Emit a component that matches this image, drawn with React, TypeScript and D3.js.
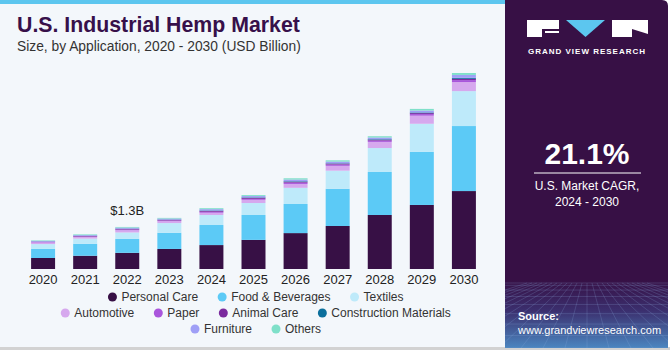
import * as d3 from "d3";

// values in USD billion
const years = ["2020", "2021", "2022", "2023", "2024", "2025", "2026", "2027", "2028", "2029", "2030"];
const personalCare = [0.34, 0.41, 0.5, 0.62, 0.74, 0.9, 1.11, 1.33, 1.67, 1.98, 2.41];
const foodBeverages = [0.28, 0.37, 0.43, 0.5, 0.62, 0.77, 0.9, 1.15, 1.33, 1.64, 2.01];
const textiles = [0.15, 0.16, 0.2, 0.3, 0.31, 0.37, 0.5, 0.56, 0.74, 0.87, 1.08];
const automotive = [0.05, 0.05, 0.07, 0.06, 0.07, 0.1, 0.12, 0.15, 0.19, 0.25, 0.28];
const paper = [0.015, 0.015, 0.02, 0.02, 0.03, 0.03, 0.04, 0.04, 0.04, 0.05, 0.06];
const animalCare = [0.01, 0.015, 0.02, 0.02, 0.025, 0.03, 0.03, 0.03, 0.03, 0.03, 0.04];
const construction = [0.005, 0.01, 0.01, 0.01, 0.015, 0.015, 0.015, 0.01, 0.015, 0.02, 0.03];
const furniture = [0.02, 0.02, 0.03, 0.03, 0.04, 0.04, 0.05, 0.05, 0.05, 0.06, 0.09];
const others = [0.015, 0.02, 0.02, 0.02, 0.03, 0.03, 0.04, 0.04, 0.04, 0.05, 0.06];

const seriesNames = [
  "Personal Care", "Food & Beverages", "Textiles", "Automotive", "Paper",
  "Animal Care", "Construction Materials", "Furniture", "Others",
];
const seriesValues = [
  personalCare, foodBeverages, textiles, automotive, paper,
  animalCare, construction, furniture, others,
];
const colors = [
  "#371045", "#5ccaf6", "#beeafa", "#d6a8ee", "#a956dc",
  "#7a2a9e", "#0b6f9c", "#9f9ff6", "#7fe0c9",
];

const font = "'Liberation Sans', Arial, sans-serif";

// legend rows (indexes into series)
const legendRows = [
  [0, 1, 2],
  [3, 4, 5, 6],
  [7, 8],
];

export default function App() {
  const W = 670;
  const H = 350;

  const rows = years.map((y, i) => {
    const r: any = { year: y };
    seriesNames.forEach((n, j) => (r[n] = seriesValues[j][i]));
    return r;
  });
  const stacked = d3.stack().keys(seriesNames)(rows);
  const maxTotal = d3.max(rows, (r: any) => d3.sum(seriesNames, (n) => r[n])) as number;

  const x = d3.scaleBand().domain(years).range([13, 494]).paddingInner(0.43).paddingOuter(0.43);
  const y = d3.scaleLinear().domain([0, maxTotal]).range([269, 73]);

  const labelIdx = years.indexOf("2022");
  const labelTop = y(d3.sum(seriesValues, (s) => s[labelIdx]));

  // approximate legend text width for centering
  const ctx = document.createElement("canvas").getContext("2d")!;
  ctx.font = `12px ${font}`;
  const itemW = (i: number) => 11 + ctx.measureText(seriesNames[i]).width;
  const gap = 22;

  // grid lines for the panel footer
  const gridV = d3.range(-12, 13).map((k) => k);
  const gridH = d3.range(0, 9).map((k) => 283 + Math.pow(k / 8, 1.6) * 65);

  return (
    <svg width={W} height={H} style={{ display: "block", position: "absolute", left: 0, top: 0 }}>
      <defs>
        <linearGradient id="foot" x1="0" y1="0" x2="0" y2="1">
          <stop offset="0" stopColor="#371045" />
          <stop offset="0.45" stopColor="#3b2f6e" />
          <stop offset="1" stopColor="#4b86c0" />
        </linearGradient>
        <clipPath id="footClip">
          <rect x={505} y={280} width={163} height={68} />
        </clipPath>
      </defs>
      <rect x={0} y={0} width={W} height={H} fill="#ffffff" />
      <rect x={0} y={0} width={505} height={348} fill="#f3f7fb" />
      <rect x={0} y={0} width={505} height={4} fill="#5cc6ef" />
      <rect x={0} y={347} width={W} height={3} fill="#d2d2d2" />

      <text x={17} y={32} fontFamily={font} fontWeight={700} fontSize={21.3} fill="#37104a">
        U.S. Industrial Hemp Market
      </text>
      <text x={17} y={51} fontFamily={font} fontSize={13.8} fill="#333">
        Size, by Application, 2020 - 2030 (USD Billion)
      </text>

      {stacked.map((s, j) => (
        <g key={s.key} fill={colors[j]}>
          {s.map((d: any, i) => (
            <rect
              key={i}
              x={x(years[i])}
              y={y(d[1])}
              width={x.bandwidth()}
              height={Math.max(0, y(d[0]) - y(d[1]))}
            />
          ))}
        </g>
      ))}

      {years.map((yr) => (
        <text
          key={yr}
          x={(x(yr) as number) + x.bandwidth() / 2}
          y={284}
          textAnchor="middle"
          fontFamily={font}
          fontSize={13}
          fill="#222"
        >
          {yr}
        </text>
      ))}

      <text
        x={(x("2022") as number) + x.bandwidth() / 2}
        y={labelTop - 12}
        textAnchor="middle"
        fontFamily={font}
        fontSize={13}
        fill="#222"
      >
        $1.3B
      </text>

      {legendRows.map((row, r) => {
        const total = d3.sum(row, (i) => itemW(i)) + gap * (row.length - 1);
        let cx = 255 - total / 2;
        const cy = 297 + r * 16;
        return row.map((i) => {
          const sx = cx;
          cx += itemW(i) + gap;
          return (
            <g key={i}>
              <circle cx={sx + 4} cy={cy} r={4.5} fill={colors[i]} />
              <text x={sx + 13} y={cy + 4} fontFamily={font} fontSize={12} fill="#333">
                {seriesNames[i]}
              </text>
            </g>
          );
        });
      })}

      {/* right panel */}
      <path d="M505,0 H662 Q668,0 668,6 V348 H505 Z" fill="#371045" />
      <g clipPath="url(#footClip)">
        <rect x={505} y={280} width={163} height={68} fill="url(#foot)" />
        {gridV.map((k) => (
          <line
            key={k}
            x1={587 + k * 5}
            y1={283}
            x2={587 + k * 22}
            y2={348}
            stroke="#8fb4e0"
            strokeOpacity={0.35}
            strokeWidth={0.6}
          />
        ))}
        {gridH.map((gy, k) => (
          <line key={k} x1={505} y1={gy} x2={668} y2={gy} stroke="#8fb4e0" strokeOpacity={0.35} strokeWidth={0.6} />
        ))}
      </g>

      {/* logo */}
      <rect x={527} y={20} width={32} height={17} fill="#fff" />
      <path d="M542,29 H559 V37 H542 Z" fill="#371045" />
      <path d="M545,31 H559 V33 H545 Z" fill="#fff" />
      <path d="M566,20 H605 L585.5,37 Z" fill="#5cc6ef" />
      <rect x={612} y={20} width={36} height={17} fill="#fff" />
      <path d="M632,29 L648,34 V37 H632 Z" fill="#371045" />
      <text x={587} y={54} textAnchor="middle" fontFamily={font} fontWeight={700} fontSize={8} letterSpacing={1} fill="#fff">
        GRAND VIEW RESEARCH
      </text>

      <text x={587} y={164} textAnchor="middle" fontFamily={font} fontWeight={700} fontSize={30} fill="#fff">
        21.1%
      </text>
      <line x1={534} x2={641} y1={173} y2={173} stroke="#fff" strokeWidth={1} />
      <text x={587} y={190} textAnchor="middle" fontFamily={font} fontSize={12} fill="#fff">
        U.S. Market CAGR,
      </text>
      <text x={587} y={206} textAnchor="middle" fontFamily={font} fontSize={12} fill="#fff">
        2024 - 2030
      </text>

      <text x={518} y={320} fontFamily={font} fontWeight={700} fontSize={11} fill="#fff">
        Source:
      </text>
      <text x={518} y={334} fontFamily={font} fontSize={11} fill="#fff">
        www.grandviewresearch.com
      </text>
    </svg>
  );
}
